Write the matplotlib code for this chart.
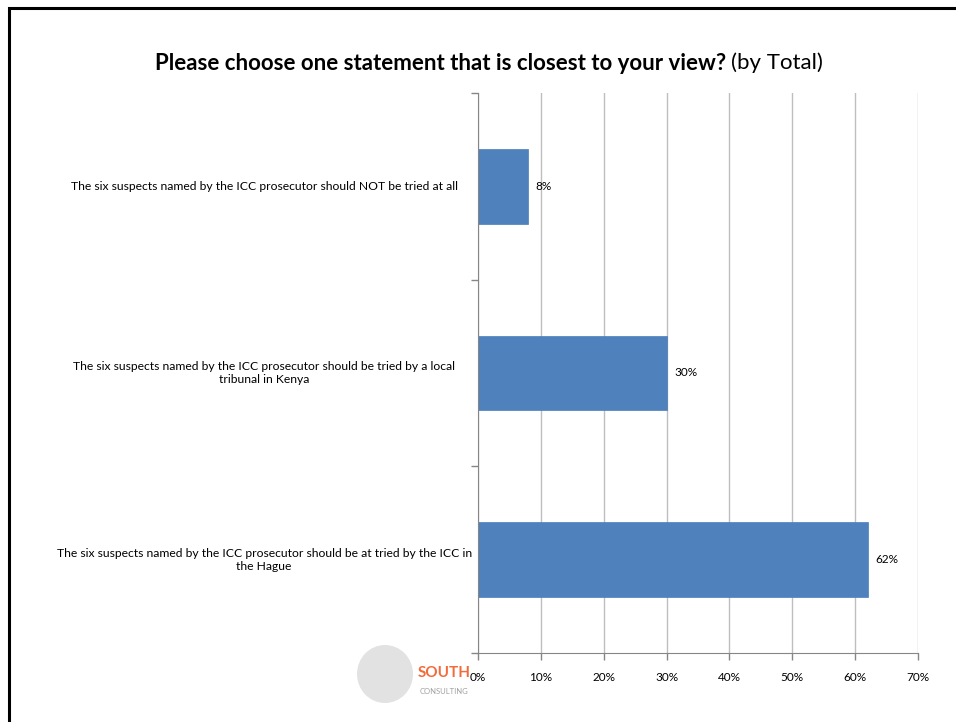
import matplotlib.pyplot as plt
from matplotlib.patches import Ellipse

plt.rcParams['font.family'] = ['Lato', 'DejaVu Sans']

categories = [
    "The six suspects named by the ICC prosecutor should NOT be tried at all",
    "The six suspects named by the ICC prosecutor should be tried by a local\ntribunal in Kenya",
    "The six suspects named by the ICC prosecutor should be at tried by the ICC in\nthe Hague",
]
values = [8, 30, 62]
ticks = [0, 10, 20, 30, 40, 50, 60, 70]
tick_labels = [f"{t}%" for t in ticks]

W, H = 956, 722
fig = plt.figure(figsize=(W / 100, H / 100), dpi=100)

# slide frame (only top and left edges visible)
frame = plt.Rectangle((9 / W, -0.05), 1.2, 1 - 8 / H + 0.05, transform=fig.transFigure,
                      fill=False, edgecolor='black', linewidth=2.2)
fig.patches.append(frame)

ax = fig.add_axes([478 / W, 1 - 653 / H, 440 / W, 560 / H])
ypos = range(len(categories))
ax.barh(ypos, values, height=0.4, color='#4F81BD', edgecolor='#4A7DB8', linewidth=0.5)
ax.set_ylim(2.5, -0.5)
ax.set_xlim(0, 70)

ax.set_xticks(ticks)
ax.set_xticklabels(tick_labels, fontsize=8.5)
ax.set_yticks([-0.5, 0.5, 1.5, 2.5])
ax.set_yticklabels([])
ax.tick_params(axis='y', length=5, color='#868686', width=1)
ax.tick_params(axis='x', length=5, color='#868686', width=1, pad=9)

# category labels, centred in the space left of the axis
for i, c in enumerate(categories):
    ax.annotate(c, xy=(0, i), xycoords=('axes fraction', 'data'), xytext=(-154, 0),
                textcoords='offset points', ha='center', va='center', fontsize=8.7,
                multialignment='center')

ax.grid(axis='x', color='#BEBEBE', linewidth=1)
ax.set_axisbelow(True)
for s in ['top', 'right']:
    ax.spines[s].set_visible(False)
ax.spines['left'].set_color('#868686')
ax.spines['bottom'].set_color('#868686')

for i, v in enumerate(values):
    ax.text(v + 1.2, i, f"{v}%", va='center', ha='left', fontsize=8.5)

# title: bold question followed by regular "(by Total)"
t1 = fig.text(155 / W, 1 - 63 / H, "Please choose one statement that is closest to your view?",
              fontsize=16, fontweight='bold', va='center', ha='left')
fig.canvas.draw()
bb = t1.get_window_extent()
fig.text((bb.x1 + 5) / W, 1 - 63 / H, "(by Total)", fontsize=16, va='center', ha='left')

# logo
logo = Ellipse((385 / W, 1 - 674 / H), 56 / W, 58 / H, transform=fig.transFigure,
               facecolor='#E2E2E2', edgecolor='none')
fig.patches.append(logo)
fig.text(418 / W, 1 - 673 / H, "SOUTH", fontsize=11, color='#F26B3A',
         fontweight='bold', va='center', ha='left')
fig.text(420 / W, 1 - 692 / H, "CONSULTING", fontsize=5.5, color='#A0A0A0',
         va='center', ha='left')

fig.savefig('out.png', dpi=100)
